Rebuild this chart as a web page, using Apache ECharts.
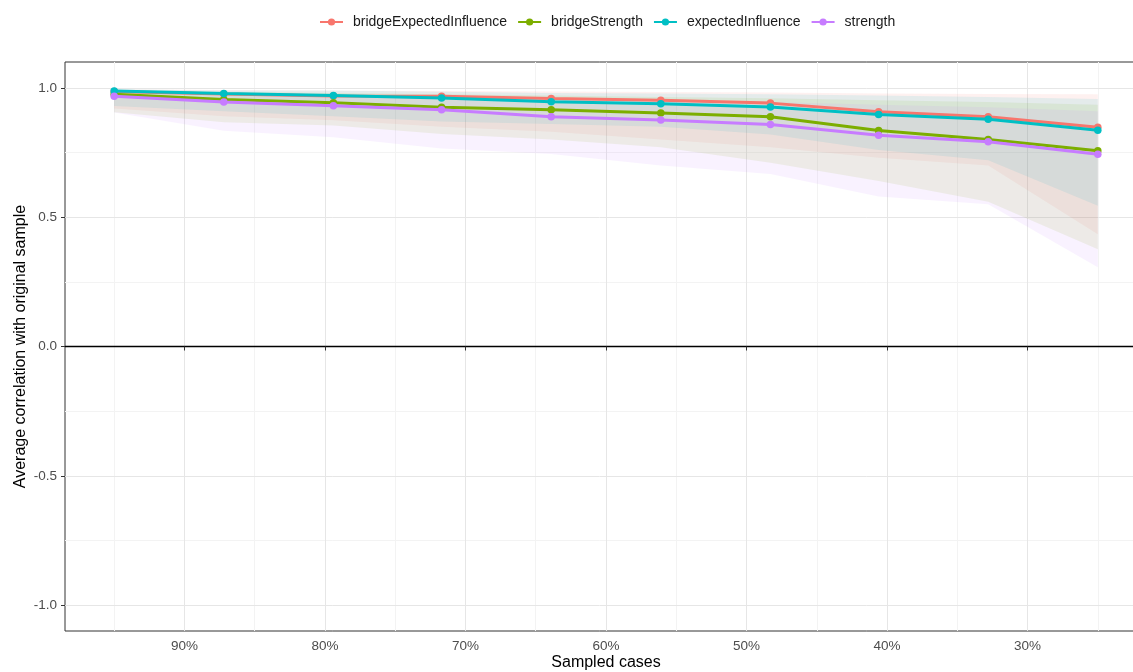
<!DOCTYPE html>
<html><head><meta charset="utf-8">
<script src="https://cdn.jsdelivr.net/npm/echarts@6/dist/echarts.min.js"></script>
<style>html,body{margin:0;padding:0;background:#fff}#c{width:1133px;height:672px}</style>
</head><body><div id="c"></div>
<script>
// ---- data ----
const sampled = [95, 87.2, 79.4, 71.7, 63.9, 56.1, 48.3, 40.6, 32.8, 25];
const names = ['bridgeExpectedInfluence', 'bridgeStrength', 'expectedInfluence', 'strength'];
const colors = ['#F8766D', '#7CAE00', '#00BFC4', '#C77CFF'];

const meanBEI = [0.986, 0.976, 0.969, 0.968, 0.959, 0.952, 0.941, 0.908, 0.888, 0.848];
const meanBS  = [0.975, 0.955, 0.942, 0.925, 0.915, 0.903, 0.888, 0.835, 0.800, 0.757];
const meanEI  = [0.988, 0.978, 0.970, 0.961, 0.946, 0.939, 0.926, 0.897, 0.879, 0.836];
const meanS   = [0.968, 0.945, 0.931, 0.915, 0.888, 0.876, 0.858, 0.817, 0.792, 0.743];

const upBEI = [0.995, 0.992, 0.99, 0.988, 0.986, 0.984, 0.982, 0.978, 0.976, 0.975];
const loBEI = [0.92, 0.89, 0.875, 0.85, 0.83, 0.80, 0.77, 0.73, 0.70, 0.434];
const upBS  = [0.99, 0.985, 0.98, 0.975, 0.97, 0.965, 0.96, 0.952, 0.945, 0.935];
const loBS  = [0.906, 0.867, 0.854, 0.822, 0.80, 0.77, 0.71, 0.64, 0.56, 0.376];
const upEI  = [0.995, 0.99, 0.99, 0.985, 0.98, 0.978, 0.975, 0.97, 0.965, 0.957];
const loEI  = [0.93, 0.91, 0.89, 0.87, 0.86, 0.85, 0.82, 0.76, 0.72, 0.544];
const upS   = [0.985, 0.98, 0.975, 0.968, 0.96, 0.955, 0.945, 0.935, 0.925, 0.91];
const loS   = [0.905, 0.834, 0.809, 0.766, 0.744, 0.70, 0.667, 0.58, 0.55, 0.306];

const xMajor = [30, 40, 50, 60, 70, 80, 90];
const xMinor = [25, 35, 45, 55, 65, 75, 85, 95];
const yMajor = [-1, -0.5, 0, 0.5, 1];
const yMinor = [-0.75, -0.25, 0.25, 0.75];

const means = [meanBEI, meanBS, meanEI, meanS];
const uppers = [upBEI, upBS, upEI, upS];
const lowers = [loBEI, loBS, loEI, loS];

const FONT = 'Liberation Sans, Arial, Helvetica, sans-serif';

function ribbon(i) {
  const lo = lowers[i], up = uppers[i];
  return {
    type: 'custom', name: names[i] + '_band', z: 1, silent: true, animation: false,
    data: sampled.map((x, k) => [x, lo[k], up[k]]),
    encode: { x: 0, y: [1, 2] },
    renderItem: function (params, api) {
      if (params.dataIndex !== 0) return null;
      const pts = [];
      for (let k = 0; k < sampled.length; k++) pts.push(api.coord([sampled[k], up[k]]));
      for (let k = sampled.length - 1; k >= 0; k--) pts.push(api.coord([sampled[k], lo[k]]));
      return { type: 'polygon', shape: { points: pts }, style: { fill: colors[i], opacity: 0.1 } };
    }
  };
}

function lineSeries(i) {
  return {
    type: 'line', name: names[i], z: 3 + i, animation: false,
    data: sampled.map((x, k) => [x, means[i][k]]),
    symbol: 'circle', symbolSize: 7.5, showSymbol: true,
    lineStyle: { color: colors[i], width: 3 },
    itemStyle: { color: colors[i] }
  };
}

const gridLines = [];
xMinor.forEach(v => gridLines.push({ xAxis: v, lineStyle: { color: '#f3f3f3', width: 1, type: 'solid' } }));
yMinor.forEach(v => gridLines.push({ yAxis: v, lineStyle: { color: '#f3f3f3', width: 1, type: 'solid' } }));
xMajor.forEach(v => gridLines.push({ xAxis: v, lineStyle: { color: '#e6e6e6', width: 1, type: 'solid' } }));
yMajor.filter(v => v !== 0).forEach(v => gridLines.push({ yAxis: v, lineStyle: { color: '#e6e6e6', width: 1, type: 'solid' } }));
gridLines.push({ yAxis: 0, lineStyle: { color: '#000000', width: 1.3, type: 'solid' } });

const series = [
  {
    type: 'line', name: '_grid', data: [], silent: true, z: 0, animation: false,
    markLine: { silent: true, z: 0, animation: false, symbol: ['none', 'none'], label: { show: false }, data: gridLines }
  }
];
for (let i = 0; i < 4; i++) series.push(ribbon(i));
for (let i = 0; i < 4; i++) series.push(lineSeries(i));

const chart = echarts.init(document.getElementById('c'), null, { renderer: 'canvas' });
chart.setOption({
  backgroundColor: '#ffffff',
  textStyle: { fontFamily: FONT },
  animation: false,
  legend: {
    data: names, left: 314, top: 10, itemWidth: 23, itemHeight: 9, itemGap: 10,
    textStyle: { fontSize: 14, color: '#1a1a1a', fontFamily: FONT, padding: [0, 0, 0, 5] }
  },
  grid: {
    left: 65, right: -14, top: 62, bottom: 41, outerBoundsMode: 'none', containLabel: false,
    show: true, borderColor: '#333333', borderWidth: 1, backgroundColor: '#ffffff'
  },
  xAxis: {
    type: 'value', inverse: true, min: 21.5, max: 98.5,
    name: 'Sampled cases', nameLocation: 'middle', nameGap: 24, nameMoveOverlap: false,
    nameTextStyle: { fontSize: 16, color: '#000', fontFamily: FONT },
    axisLine: { show: false },
    axisTick: { show: true, customValues: xMajor, length: 4, lineStyle: { color: '#333' } },
    axisLabel: { customValues: xMajor, formatter: v => v + '%', fontSize: 13.5, color: '#4d4d4d', margin: 8, fontFamily: FONT },
    splitLine: { show: false }, minorSplitLine: { show: false }
  },
  yAxis: {
    type: 'value', min: -1.1, max: 1.1,
    name: 'Average correlation with original sample', nameLocation: 'middle', nameGap: 36, nameRotate: 90, nameMoveOverlap: false,
    nameTextStyle: { fontSize: 16, color: '#000', fontFamily: FONT },
    axisLine: { show: false },
    axisTick: { show: true, customValues: yMajor, length: 4, lineStyle: { color: '#333' } },
    axisLabel: { customValues: yMajor, formatter: v => v.toFixed(1), fontSize: 13.5, color: '#4d4d4d', margin: 8, fontFamily: FONT },
    splitLine: { show: false }
  },
  series: series
});
</script>
</body></html>
